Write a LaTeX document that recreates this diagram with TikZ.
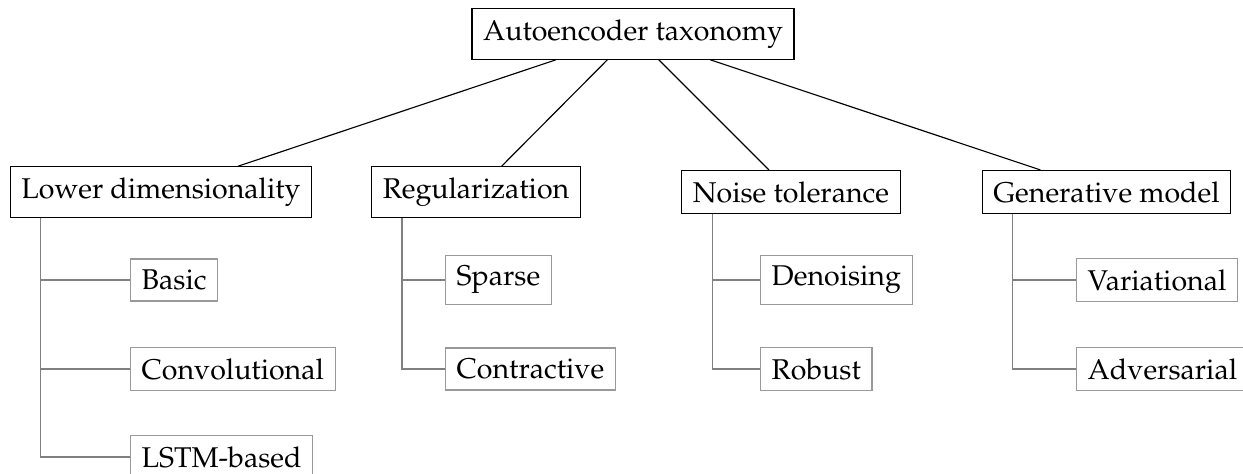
\documentclass[tikz,border=0pt]{standalone}
\usepackage[T1]{fontenc}
\usepackage{mathpazo}
\begin{document}
\begin{tikzpicture}[x=0.35pt, y=-0.35pt,
  every node/.style={font=\fontsize{10pt}{12pt}\selectfont, inner xsep=3.9pt, inner ysep=3.8pt},
  mainbox/.style={draw=black, line width=0.4pt},
  leafbox/.style={draw=black!40, line width=0.4pt, anchor=west},
  treeedge/.style={draw=black, line width=0.4pt},
  leafedge/.style={draw=black!50, line width=0.45pt},
  trunk/.style={xshift=10.85pt}]
\useasboundingbox (0,0) rectangle (1243,474);

% root and first level
\node[mainbox] (root) at (633,34) {Autoencoder taxonomy};
\node[mainbox] (ld)  at (161,192) {Lower dimensionality};
\node[mainbox] (reg) at (476,192) {Regularization};
\node[mainbox] (nt)  at (791,192) {Noise tolerance};
\node[mainbox] (gm)  at (1106.5,192) {Generative model};

\foreach \c in {ld,reg,nt,gm}
  \draw[treeedge] (root) -- (\c);

% second level
\node[leafbox] (basic) at (130,280) {Basic};
\node[leafbox] (conv)  at (130,369) {Convolutional};
\node[leafbox] (lstm)  at (130,457) {LSTM-based};

\node[leafbox] (sparse) at (445,280) {Sparse};
\node[leafbox] (contr)  at (445,369) {Contractive};

\node[leafbox] (denoise) at (760,280) {Denoising};
\node[leafbox] (robust)  at (760,369) {Robust};

\node[leafbox] (var) at (1076,280) {Variational};
\node[leafbox] (adv) at (1076,369) {Adversarial};

% folder-style connectors
\foreach \c in {basic,conv,lstm}
  \draw[leafedge] ([trunk]ld.south west) |- (\c.west);
\foreach \c in {sparse,contr}
  \draw[leafedge] ([trunk]reg.south west) |- (\c.west);
\foreach \c in {denoise,robust}
  \draw[leafedge] ([trunk]nt.south west) |- (\c.west);
\foreach \c in {var,adv}
  \draw[leafedge] ([trunk]gm.south west) |- (\c.west);
\end{tikzpicture}
\end{document}
